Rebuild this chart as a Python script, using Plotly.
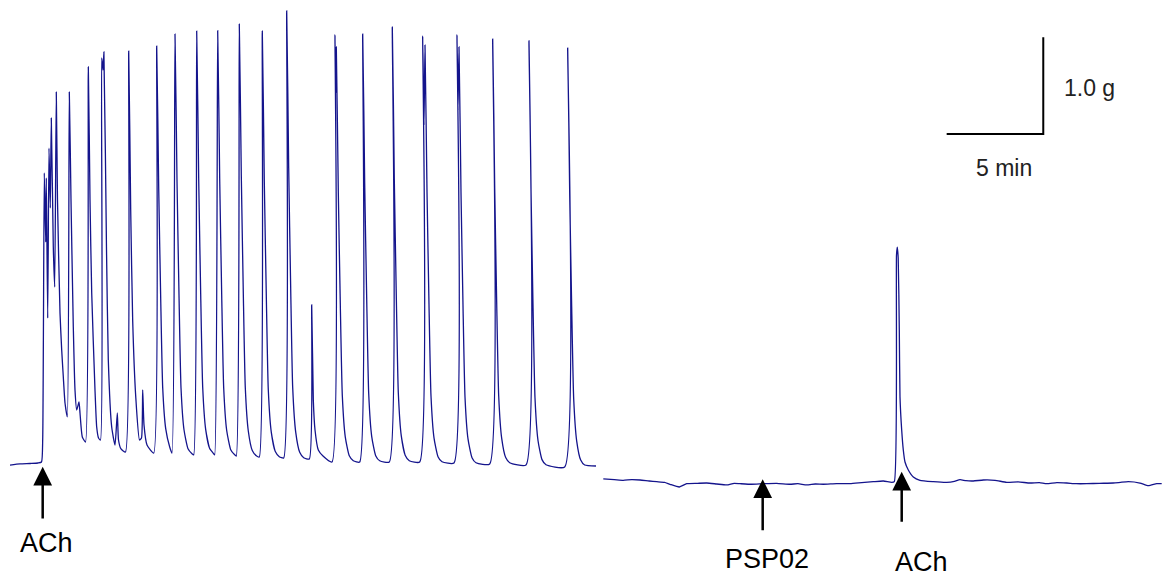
import plotly.graph_objects as go

# ---- Data: isometric tension trace (time in min, tension in g above initial baseline) ----
# Recording 1: ACh-induced rhythmic contractions
t_seg1 = [-1.682, -1.165, -0.647, -0.233, -0.052, 0.010, 0.093, 0.166, 0.197, 0.269,
          0.336, 0.404, 0.455, 0.559, 0.631, 0.714, 0.776, 0.906, 0.994, 1.077,
          1.165, 1.284, 1.387, 1.475, 1.594, 1.682, 1.770, 1.889, 1.941, 2.060,
          2.226, 2.371, 2.459, 2.547, 2.717, 2.805, 2.899, 3.002, 3.064, 3.131,
          3.178, 3.313, 3.406, 3.582, 3.753, 3.872, 3.934, 4.063, 4.296,
          4.462, 4.565, 4.669, 4.824, 5.021, 5.124, 5.186, 5.254, 5.409, 5.756,
          5.911, 6.015, 6.118, 6.222, 6.377, 6.584, 6.703,
          6.858, 6.962, 7.065, 7.169, 7.324, 7.531, 7.738, 7.826,
          7.981, 8.085, 8.188, 8.292, 8.447, 8.654, 8.861, 8.913,
          9.068, 9.172, 9.275, 9.379, 9.534, 9.741, 9.948, 10.031,
          10.186, 10.290, 10.393, 10.497, 10.652, 10.859, 11.066, 11.222,
          11.377, 11.480, 11.584, 11.687, 11.843, 12.050, 12.257, 12.485,
          12.640, 12.743, 12.847, 12.950, 13.106, 13.313, 13.520, 13.810,
          13.934, 14.017, 14.105, 14.276, 14.519, 14.985,
          15.140, 15.176, 15.207, 15.311, 15.414, 15.518, 15.673, 15.880, 16.087, 16.418,
          16.574, 16.677, 16.781, 16.884, 17.039, 17.246, 17.454, 17.950,
          18.106, 18.209, 18.313, 18.416, 18.571, 18.778, 18.986, 19.524,
          19.679, 19.746, 19.798, 19.902, 20.005, 20.109, 20.264, 20.471, 20.678, 21.299,
          21.455, 21.507, 21.558, 21.662, 21.765, 21.869, 22.024, 22.231, 22.438, 23.147,
          23.302, 23.406, 23.509, 23.613, 23.768, 23.975, 24.182, 25.026,
          25.181, 25.285, 25.388, 25.492, 25.647, 25.854, 26.061, 27.029,
          27.184, 27.288, 27.391, 27.495, 27.650, 27.857, 28.064, 28.649]
g_seg1 = [-0.021, -0.010, -0.005, 0.000, 0.010, 0.238, 2.999, 2.285, 2.947, 1.499,
          3.257, 2.637, 3.567, 2.233, 1.820, 3.836, 2.719, 1.551, 1.168, 0.889,
          0.620, 0.476, 3.836, 2.719, 1.406, 0.755, 0.548, 0.631, 0.517, 0.269,
          0.217, 4.095, 2.719, 1.758, 0.755, 0.372, 0.259, 0.238, 4.188, 4.064,
          4.250, 2.202, 1.065, 0.372, 0.186, 0.517, 0.238, 0.145, 0.114,
          4.260, 2.616, 1.468, 0.693, 0.238, 0.259, 0.755, 0.393, 0.186, 0.103,
          4.312, 2.838, 1.703, 0.777, 0.356, 0.166, 0.103,
          4.436, 2.913, 1.737, 0.779, 0.344, 0.148, 0.096, 0.083,
          4.467, 2.933, 1.749, 0.784, 0.346, 0.149, 0.096, 0.083,
          4.470, 2.931, 1.743, 0.776, 0.336, 0.138, 0.085, 0.072,
          4.539, 2.973, 1.763, 0.778, 0.331, 0.129, 0.075, 0.062,
          4.467, 2.922, 1.730, 0.758, 0.317, 0.118, 0.065, 0.052,
          4.674, 3.052, 1.801, 0.782, 0.319, 0.110, 0.055, 0.041,
          1.634, 0.651, 0.341, 0.134, 0.072, 0.010,
          4.426, 3.826, 4.302, 2.800, 1.641, 0.697, 0.268, 0.074, 0.023, 0.010,
          4.436, 2.887, 1.692, 0.718, 0.276, 0.076, 0.023, 0.010,
          4.508, 2.935, 1.720, 0.730, 0.280, 0.077, 0.023, 0.010,
          4.415, 3.495, 4.322, 2.809, 1.642, 0.692, 0.259, 0.065, 0.013, 0.000,
          4.426, 3.650, 4.302, 2.792, 1.629, 0.680, 0.249, 0.055, 0.003, -0.010,
          4.384, 2.847, 1.660, 0.693, 0.254, 0.056, 0.003, -0.021,
          4.364, 2.826, 1.639, 0.672, 0.233, 0.035, -0.018, -0.041,
          4.291, 2.781, 1.613, 0.662, 0.227, 0.031, -0.021, -0.031]

# Recording 2: PSP02 pre-incubation, then ACh challenge
t_seg2 = [29.027, 29.600, 30.062, 30.500, 30.927, 31.400, 31.791, 32.200, 32.479, 32.961,
          33.344, 33.900, 34.379, 34.900, 35.414, 35.800, 36.103, 36.700, 37.309, 38.000,
          38.691, 39.100, 39.555, 40.000, 40.414, 41.100, 41.796, 42.400, 43.002, 43.520,
          43.955, 44.089, 44.203, 44.244, 44.291, 44.348, 44.384, 44.472, 44.555, 44.643,
          44.814, 45.073, 45.419, 46.108, 46.801, 47.200, 47.490, 47.800, 48.178, 48.700,
          49.301, 49.907, 50.500, 51.113, 51.600, 51.977, 52.500, 53.013, 53.500, 54.048,
          54.700, 55.425, 55.800, 56.201, 56.806, 57.236, 57.671, 57.930]
g_seg2 = [-0.165, -0.172, -0.179, -0.172, -0.176, -0.186, -0.193, -0.200, -0.220, -0.248,
          -0.214, -0.210, -0.207, -0.217, -0.227, -0.210, -0.214, -0.220, -0.214, -0.210,
          -0.220, -0.214, -0.227, -0.217, -0.220, -0.214, -0.214, -0.203, -0.193, -0.186,
          -0.200, -0.193, 2.151, 2.233, 2.120, 1.375, 0.686, 0.341, 0.134, 0.010,
          -0.072, -0.145, -0.179, -0.193, -0.200, -0.190, -0.172, -0.183, -0.186, -0.176,
          -0.179, -0.200, -0.196, -0.207, -0.203, -0.214, -0.203, -0.207, -0.214, -0.214,
          -0.210, -0.207, -0.200, -0.193, -0.207, -0.235, -0.214, -0.214]

# Drug additions (arrow markers)
event_labels = ["ACh", "PSP02", "ACh"]
event_t = [0.010, 37.277, 44.473]

# Calibration bars
scale_min = 5.0
scale_g = 1.0
scale_labels = ["1.0 g", "5 min"]

# ---- Figure ----
TRACE_COLOR = "#14148c"
FONT = "Liberation Sans, Arial, sans-serif"

fig = go.Figure()
fig.add_trace(go.Scatter(x=t_seg1, y=g_seg1, mode="lines",
                         line=dict(color=TRACE_COLOR, width=1.3, shape="spline", smoothing=0.5),
                         hoverinfo="skip"))
fig.add_trace(go.Scatter(x=t_seg2, y=g_seg2, mode="lines",
                         line=dict(color=TRACE_COLOR, width=1.3, shape="spline", smoothing=0.5),
                         hoverinfo="skip"))

# scale bar (anchored at the corner)
sb_t0, sb_g0 = 46.80, 3.402
fig.add_trace(go.Scatter(x=[sb_t0, sb_t0 + scale_min, sb_t0 + scale_min],
                         y=[sb_g0, sb_g0, sb_g0 + scale_g], mode="lines",
                         line=dict(color="black", width=2), hoverinfo="skip"))

annotations = []
# arrows
tip_g = [-0.038, -0.169, -0.090]
tail_px = [53.3, 52.4, 51.6]
for t, gy, ay in zip(event_t, tip_g, tail_px):
    annotations.append(dict(x=t, y=gy, xref="x", yref="y", text="", showarrow=True,
                            ax=0, ay=ay, arrowhead=2, arrowsize=1.5, arrowwidth=2.5,
                            arrowcolor="black", standoff=0))
# arrow labels
label_pos = [(0.0396, 0.0622), (0.6567, 0.0345), (0.7891, 0.0299)]
for lab, (px, py) in zip(event_labels, label_pos):
    annotations.append(dict(x=px, y=py, xref="paper", yref="paper", text=lab,
                            showarrow=False, xanchor="center", yanchor="middle",
                            font=dict(family=FONT, size=27, color="black")))
# scale labels
annotations.append(dict(x=0.9332, y=0.8480, xref="paper", yref="paper", text=scale_labels[0],
                        showarrow=False, xanchor="center", yanchor="middle",
                        font=dict(family=FONT, size=23, color="#222222")))
annotations.append(dict(x=0.8596, y=0.7098, xref="paper", yref="paper", text=scale_labels[1],
                        showarrow=False, xanchor="center", yanchor="middle",
                        font=dict(family=FONT, size=23, color="#222222")))

fig.update_layout(
    width=1168, height=579,
    margin=dict(l=0, r=0, t=0, b=0, pad=0),
    paper_bgcolor="white", plot_bgcolor="white",
    showlegend=False,
    xaxis=dict(range=[-2.1998, 58.256], visible=False, fixedrange=True),
    yaxis=dict(range=[-1.1996, 4.788], visible=False, fixedrange=True),
    annotations=annotations,
)

fig.write_html("out.html", config={"displayModeBar": False},
               post_script="document.body.style.margin='0';document.body.style.overflow='hidden';")
